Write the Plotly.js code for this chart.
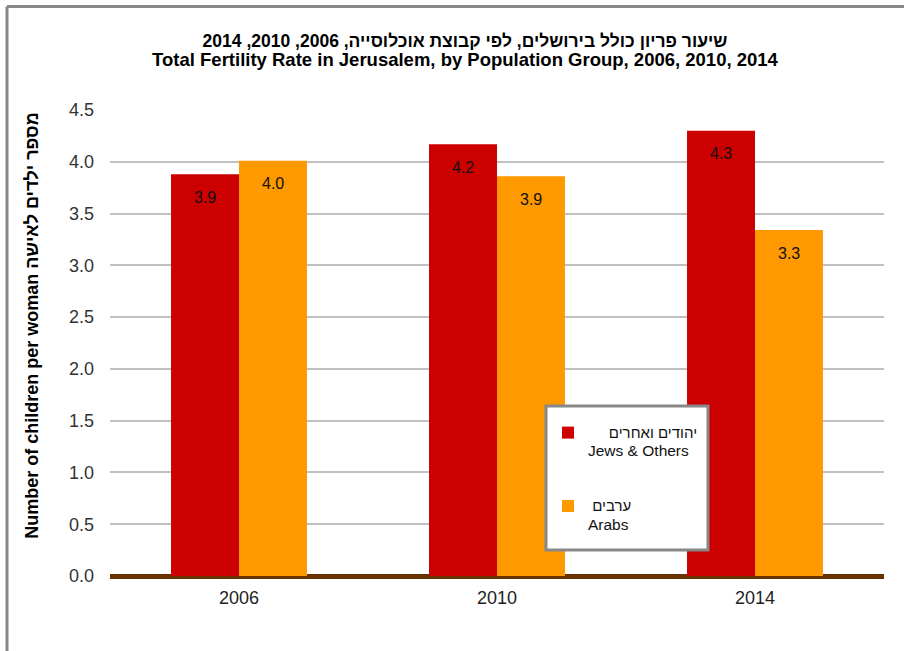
<!DOCTYPE html>
<html>
<head>
<meta charset="utf-8">
<script src="https://cdn.plot.ly/plotly-3.0.1.min.js"></script>
<style>html,body{margin:0;padding:0;background:#fff;}#chart{width:904px;height:651px;}</style>
</head>
<body>
<div id="chart"></div>
<script>
const years = ["2006", "2010", "2014"];
const jewsValues = [3.88, 4.17, 4.30];
const arabsValues = [4.01, 3.86, 3.34];
const jewsLabels = ["3.9", "4.2", "4.3"];
const arabsLabels = ["4.0", "3.9", "3.3"];
const jewsName = "<span style=\"font-size:15px\">\u00a0\u00a0\u00a0\u00a0\u00a0יהודים ואחרים</span><br><span style=\"font-size:15.5px\">Jews & Others</span>";
const arabsName = "<span style=\"font-size:15px\">\u00a0ערבים</span><br><span style=\"font-size:15.5px\">Arabs</span>";
const yTicks = [0, 0.5, 1, 1.5, 2, 2.5, 3, 3.5, 4, 4.5];
const yTickText = ["0.0", "0.5", "1.0", "1.5", "2.0", "2.5", "3.0", "3.5", "4.0", "4.5"];

const FONT = "Liberation Sans, Arial, sans-serif";

const traces = [
  {type: "bar", name: jewsName, x: years, y: jewsValues, marker: {color: "#CC0000"},
   legendgroup: "a", hoverinfo: "skip"},
  {type: "bar", name: arabsName, x: years, y: arabsValues, marker: {color: "#FF9900"},
   legendgroup: "b", hoverinfo: "skip"}
];

const annotations = [];
years.forEach((yr, i) => {
  annotations.push({x: i, y: jewsValues[i], xref: "x", yref: "y", text: jewsLabels[i],
    showarrow: false, xshift: -34, yshift: -23, yanchor: "middle",
    font: {family: FONT, size: 16, color: "#111"}});
  annotations.push({x: i, y: arabsValues[i], xref: "x", yref: "y", text: arabsLabels[i],
    showarrow: false, xshift: 34, yshift: -23, yanchor: "middle",
    font: {family: FONT, size: 16, color: "#111"}});
});

const px2x = p => (p - 110) / 774;
const px2y = p => (576 - p) / 466;

const layout = {
  width: 904, height: 651,
  margin: {l: 110, r: 20, t: 110, b: 75},
  paper_bgcolor: "#fff", plot_bgcolor: "#fff",
  font: {family: FONT, size: 14, color: "#222"},
  title: {
    text: "<b><span style=\"font-size:17.5px\">\u202Bשיעור פריון כולל בירושלים, לפי קבוצת אוכלוסייה, 2006, 2010, 2014\u202C</span></b><br><b><span style=\"font-size:18.5px\">Total Fertility Rate in Jerusalem, by Population Group, 2006, 2010, 2014</span></b>",
    x: 465 / 904, xanchor: "center", xref: "container",
    y: 1 - 47 / 651, yanchor: "middle", yref: "container",
    font: {family: FONT, size: 14.6, color: "#000"}
  },
  barmode: "group",
  bargap: 0.473,
  bargroupgap: 0,
  xaxis: {
    type: "category", range: [-0.5, 2.5], autorange: false,
    showgrid: false, showline: false, ticks: "", zeroline: false,
    tickfont: {family: FONT, size: 18, color: "#222"},
    ticklabelstandoff: 9
  },
  yaxis: {
    range: [0, 4.5], autorange: false,
    tickvals: yTicks, ticktext: yTickText,
    showgrid: true, gridcolor: "#c0c0c0", gridwidth: 2,
    zeroline: true, zerolinecolor: "#663300", zerolinewidth: 5,
    showline: false, ticks: "",
    tickfont: {family: FONT, size: 18, color: "#333"},
    ticklabelstandoff: 15,
    title: {text: "<b>\u00a0\u00a0\u00a0\u00a0\u00a0\u00a0\u00a0Number of children per woman מספר ילדים לאישה</b>",
      font: {family: FONT, size: 18, color: "#000"}, standoff: 25}
  },
  legend: {
    x: px2x(548), y: px2y(417), xanchor: "left", yanchor: "top",
    bgcolor: "rgba(0,0,0,0)", borderwidth: 0,
    font: {family: FONT, size: 14, color: "#111"},
    traceorder: "grouped", tracegroupgap: 34, valign: "top"
  },
  annotations: annotations,
  shapes: [
    {type: "line", xref: "paper", yref: "paper", x0: px2x(7), x1: px2x(7),
     y0: px2y(651), y1: px2y(6.5), line: {color: "#888", width: 3}},
    {type: "line", xref: "paper", yref: "paper", x0: px2x(7), x1: px2x(904),
     y0: px2y(6.5), y1: px2y(6.5), line: {color: "#888", width: 3}},
    {type: "rect", xref: "paper", yref: "paper", layer: "above",
     x0: px2x(546), x1: px2x(708), y0: px2y(550), y1: px2y(406),
     fillcolor: "#fff", line: {color: "#888", width: 3}}
  ],
  showlegend: true
};

Plotly.newPlot("chart", traces, layout, {displayModeBar: false, staticPlot: true});
</script>
</body>
</html>
